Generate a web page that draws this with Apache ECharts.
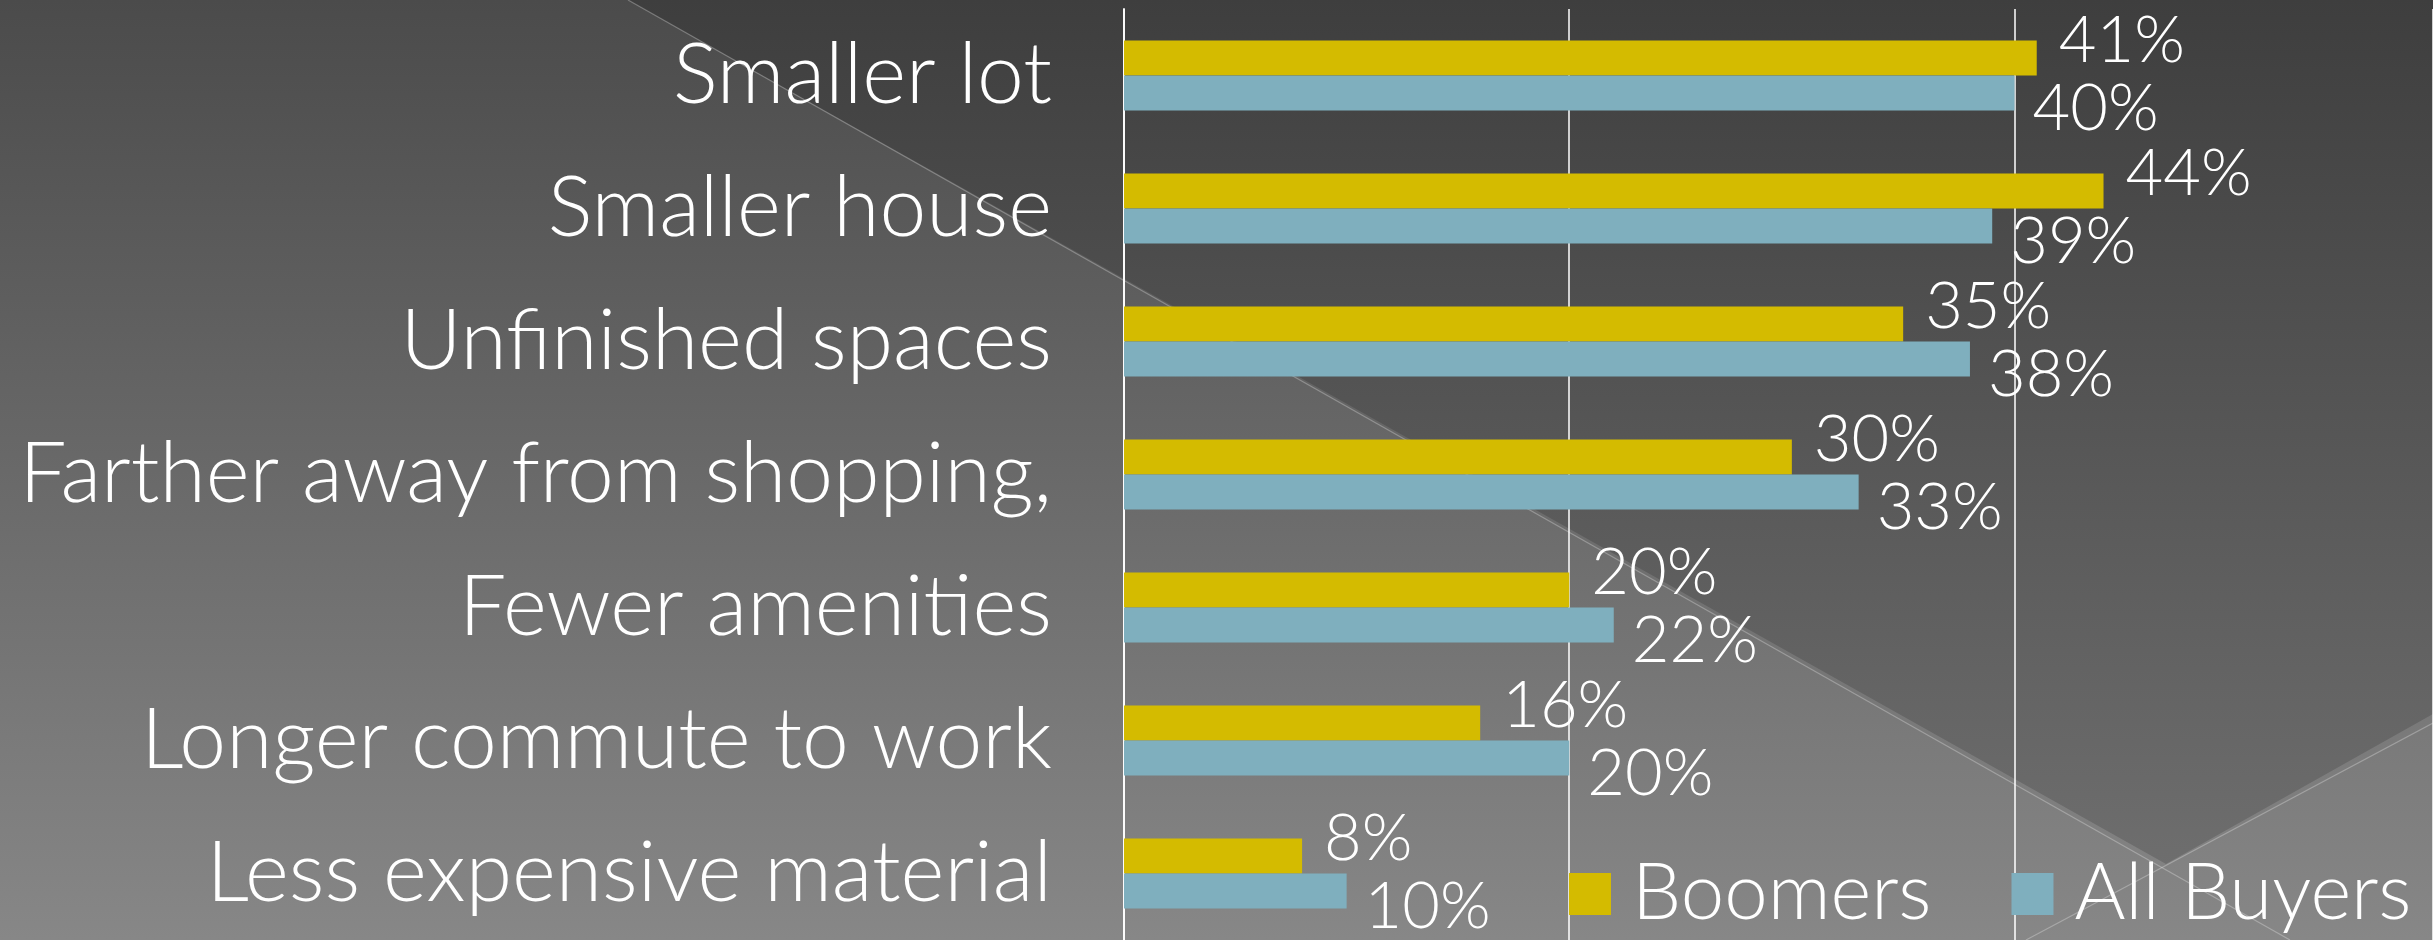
<!DOCTYPE html>
<html>
<head>
<meta charset="utf-8">
<script src="https://cdn.jsdelivr.net/npm/echarts@6/dist/echarts.min.js"></script>
<style>
html,body{margin:0;padding:0;background:#555;}
#chart{width:2433px;height:940px;}
</style>
</head>
<body>
<div id="chart"></div>
<script>
const categories = ["Smaller lot", "Smaller house", "Unfinished spaces", "Farther away from shopping,", "Fewer amenities", "Longer commute to work", "Less expensive material"];
const boomers = [41, 44, 35, 30, 20, 16, 8];
const allBuyers = [40, 39, 38, 33, 22, 20, 10];
const seriesNames = ["Boomers", "All Buyers"];
const axisMin = 0;
const axisStep = 20;
const axisVisibleMax = 58.8;

const FONT = "Lato";
const chart = echarts.init(document.getElementById('chart'), null, {renderer: 'canvas'});

const option = {
  backgroundColor: {
    type: 'linear', x: 0, y: 0, x2: 0, y2: 1,
    colorStops: [{offset: 0, color: '#4b4b4b'}, {offset: 1, color: '#878787'}]
  },
  animation: false,
  graphic: [
    {
      type: 'polygon', z: -1, silent: true,
      shape: {points: [[628, 0], [2433, 0], [2433, 714], [2166, 864]]},
      style: {
        fill: {type: 'linear', x: 0, y: 0, x2: 0, y2: 940, global: true,
          colorStops: [{offset: 0, color: '#3e3e3e'}, {offset: 1, color: '#727272'}]}
      }
    },
    {
      type: 'line', z: -1, silent: true,
      shape: {x1: 628, y1: 0, x2: 2290, y2: 940},
      style: {stroke: 'rgba(255,255,255,0.28)', lineWidth: 1.2}
    },
    {
      type: 'line', z: -1, silent: true,
      shape: {x1: 2026, y1: 940, x2: 2433, y2: 723},
      style: {stroke: 'rgba(255,255,255,0.28)', lineWidth: 1.2}
    }
  ],
  legend: {
    data: seriesNames,
    left: 1569, top: 855, padding: 0,
    icon: 'rect', itemWidth: 42, itemHeight: 42, itemGap: 80,
    textStyle: {color: '#ffffff', fontSize: 78, fontFamily: FONT, fontWeight: 300, padding: [0, 0, 0, 16]}
  },
  grid: {left: 1124, top: 9, right: 0, height: 934, containLabel: false},
  xAxis: {
    type: 'value', min: axisMin, max: axisVisibleMax, interval: axisStep,
    axisLabel: {show: false}, axisTick: {show: false}, axisLine: {show: false},
    splitLine: {show: true, lineStyle: {color: '#ffffff', width: 1.5}}
  },
  yAxis: {
    type: 'category', data: categories, inverse: true,
    axisTick: {show: false},
    axisLine: {show: true, lineStyle: {color: '#ffffff', width: 1.8}},
    axisLabel: {color: '#ffffff', fontSize: 84, fontFamily: FONT, fontWeight: 300, margin: 72}
  },
  series: [
    {
      name: seriesNames[0], type: 'bar', data: boomers, barWidth: 35, barGap: '0%',
      itemStyle: {color: '#D4BB00'},
      label: {show: true, position: 'right', distance: 22, offset: [0, -17], formatter: '{c}%',
        color: '#ffffff', fontSize: 65, fontFamily: FONT, fontWeight: 300}
    },
    {
      name: seriesNames[1], type: 'bar', data: allBuyers, barWidth: 35, barGap: '0%',
      itemStyle: {color: '#7FAFBE'},
      label: {show: true, position: 'right', distance: 18, offset: [0, 16], formatter: '{c}%',
        color: '#ffffff', fontSize: 65, fontFamily: FONT, fontWeight: 300}
    }
  ]
};
chart.setOption(option);
</script>
</body>
</html>
